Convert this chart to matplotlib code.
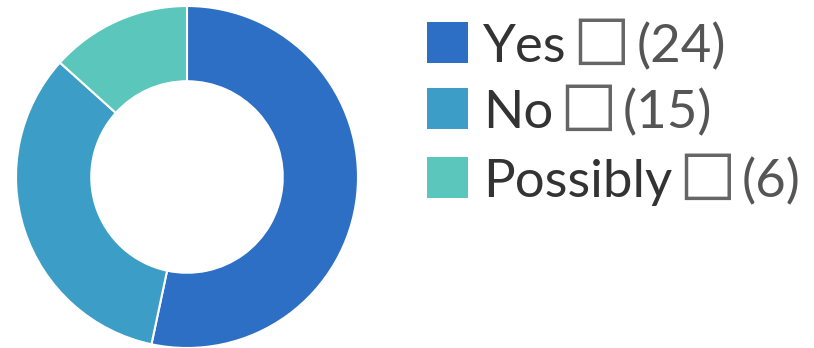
import matplotlib
matplotlib.use("Agg")
import matplotlib.pyplot as plt
from matplotlib.patches import Rectangle

labels = ["Yes", "No", "Possibly"]
counts = [24, 15, 6]
colors = ["#2D6FC4", "#3C9DC6", "#5AC6BC"]

W, H = 814, 348
fig = plt.figure(figsize=(W / 100, H / 100), dpi=100)

# donut on the left
ax = fig.add_axes([16 / W, 0 / H, 342 / W, 342 / H])
ax.pie(counts, colors=colors, startangle=90, counterclock=False,
       radius=1.0, wedgeprops=dict(width=0.44, edgecolor="white", linewidth=1.5))
ax.set_xlim(-1.0, 1.0)
ax.set_ylim(-1.0, 1.0)
ax.set_aspect("equal")
ax.axis("off")

# legend drawn by hand: swatch, label, box glyph and count
rows_y = [62, 128, 197]  # baselines in pixels from top
fs = 38
for lab, n, col, yb in zip(labels, counts, colors, rows_y):
    fig.patches.append(Rectangle((427 / W, 1 - (yb + 1) / H), 41 / W, 41 / H,
                                 transform=fig.transFigure, facecolor=col,
                                 edgecolor="none"))
    t = fig.text(483 / W, 1 - yb / H, lab, fontsize=fs, color="#333333",
                 family=["Lato", "DejaVu Sans"], va="baseline", ha="left")
    fig.canvas.draw()
    bb = t.get_window_extent()
    b = fig.text((bb.x1 + 6) / W, 1 - (yb + 3) / H, "\u2610", fontsize=fs * 1.22,
                 color="#666666", family=["DejaVu Sans"],
                 va="baseline", ha="left")
    fig.canvas.draw()
    bb2 = b.get_window_extent()
    fig.text((bb2.x1 + 6) / W, 1 - yb / H, f"({n})", fontsize=fs,
             color="#555555", family=["Lato", "DejaVu Sans"],
             va="baseline", ha="left")

fig.savefig("out.png", dpi=100, facecolor="white")
